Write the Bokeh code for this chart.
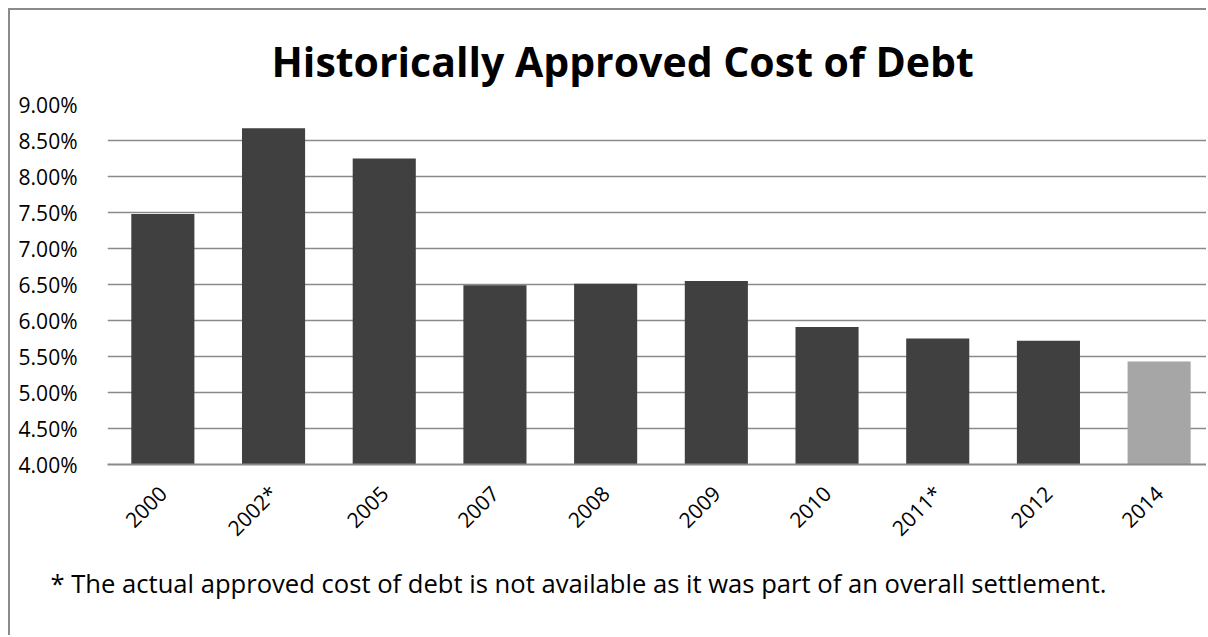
import math
from bokeh.plotting import figure
from bokeh.models import (ColumnDataSource, FixedTicker, PrintfTickFormatter,
                          Range1d, Title)
from bokeh.embed import file_html
from bokeh.resources import INLINE

years = ["2000", "2002*", "2005", "2007", "2008", "2009", "2010", "2011*", "2012", "2014"]
cost_of_debt = [7.48, 8.67, 8.25, 6.49, 6.51, 6.55, 5.91, 5.75, 5.72, 5.43]
bar_colors = ["#404040"] * 9 + ["#A6A6A6"]
y_ticks = [4.0, 4.5, 5.0, 5.5, 6.0, 6.5, 7.0, 7.5, 8.0, 8.5, 9.0]
title_text = "Historically Approved Cost of Debt"
footnote = "* The actual approved cost of debt is not available as it was part of an overall settlement."

base = 4.0
idx = list(range(len(years)))
src = ColumnDataSource(dict(x=idx, top=cost_of_debt, color=bar_colors))

p = figure(width=1198, height=627, output_backend="svg", toolbar_location=None,
           x_range=Range1d(-0.5, 9.446), y_range=Range1d(4.0, 9.0),
           min_border_left=97, min_border_right=0, min_border_top=94,
           min_border_bottom=173, title=None)
p.styles = {"margin-left": "8px", "margin-top": "8px",
            "border-left": "2px solid #8a8a8a", "border-top": "2px solid #8a8a8a"}

p.add_layout(Title(text=title_text, align="left", offset=164,
                   text_font="Open Sans", text_font_style="bold",
                   text_font_size="41px", text_color="#000000", standoff=31), "above")

p.vbar(x="x", top="top", bottom=base, width=0.57, fill_color="color",
       line_color=None, source=src)

p.outline_line_color = None
p.background_fill_color = "white"
p.border_fill_color = "white"

p.xgrid.grid_line_color = None
p.ygrid.grid_line_color = "#8a8a8a"
p.ygrid.grid_line_width = 1.6
p.ygrid.ticker = FixedTicker(ticks=y_ticks)

p.yaxis.ticker = FixedTicker(ticks=y_ticks)
p.yaxis.formatter = PrintfTickFormatter(format="%.2f%%")
p.yaxis.axis_line_color = None
p.yaxis.major_tick_line_color = None
p.yaxis.minor_tick_line_color = None
p.yaxis.major_label_text_font = "Open Sans"
p.yaxis.major_label_text_font_size = "21px"
p.yaxis.major_label_text_color = "#000000"
p.yaxis.major_label_standoff = 24

p.xaxis.ticker = FixedTicker(ticks=idx)
p.xaxis.major_label_overrides = {i: y for i, y in zip(idx, years)}
p.xaxis.axis_line_color = "#8a8a8a"
p.xaxis.axis_line_width = 2
p.xaxis.major_tick_line_color = None
p.xaxis.minor_tick_line_color = None
p.xaxis.major_label_orientation = math.pi / 4
p.xaxis.major_label_text_font = "Open Sans"
p.xaxis.major_label_text_font_size = "21px"
p.xaxis.major_label_text_color = "#000000"
p.xaxis.major_label_standoff = 19

p.add_layout(Title(text=footnote, align="left", offset=-57,
                   text_font="Open Sans", text_font_style="normal",
                   text_font_size="25.6px", text_color="#000000", standoff=19), "below")

open("out.html", "w").write(file_html(p, INLINE))
